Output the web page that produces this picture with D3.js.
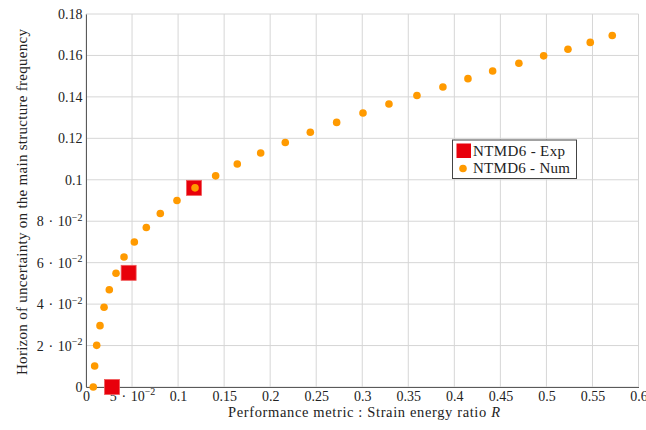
<!DOCTYPE html>
<html>
<head>
<meta charset="utf-8">
<script src="https://cdn.jsdelivr.net/npm/d3@7"></script>
</head>
<body style="margin:0;background:#fff">
<svg id="chart" width="646" height="430" style="font-family:'Liberation Serif', serif"></svg>
<script>
// Experimental results (NTMD6 - Exp)
const expR = [0.0283, 0.0463, 0.1173];
const expH = [0.0, 0.0551, 0.0961];

// Numerical results (NTMD6 - Num)
const numR = [0.0079, 0.0094, 0.0116, 0.0152, 0.0196, 0.0253, 0.0326, 0.0413, 0.0525, 0.0655,
              0.0807, 0.0988, 0.1184, 0.1408, 0.1643, 0.1897, 0.2164, 0.2436, 0.2722, 0.3008,
              0.3290, 0.3594, 0.3876, 0.4148, 0.4416, 0.4701, 0.4970, 0.5234, 0.5476, 0.5715];
const numH = [0.0, 0.0101, 0.0201, 0.0296, 0.0385, 0.0469, 0.0549, 0.0627, 0.0700, 0.0770,
              0.0837, 0.0900, 0.0961, 0.1019, 0.1076, 0.1129, 0.1180, 0.1229, 0.1277, 0.1322,
              0.1366, 0.1407, 0.1448, 0.1488, 0.1525, 0.1562, 0.1598, 0.1630, 0.1663, 0.1696];

// Tick values
const xTicks = [0, 0.05, 0.1, 0.15, 0.2, 0.25, 0.3, 0.35, 0.4, 0.45, 0.5, 0.55, 0.6];
const yTicks = [0, 0.02, 0.04, 0.06, 0.08, 0.1, 0.12, 0.14, 0.16, 0.18];

const legendLabels = ["NTMD6 - Exp", "NTMD6 - Num"];
const legendWidths = [92, 97];

const FONT = "'Liberation Serif', serif";
const svg = d3.select("#chart");
const margin = { left: 86, right: 7.5, top: 14, bottom: 43 };
const W = 646, H = 430;

const x = d3.scaleLinear().domain([0, 0.6]).range([margin.left, W - margin.right]);
const y = d3.scaleLinear().domain([0, 0.18]).range([H - margin.bottom, margin.top]);

// tick label: decimals, or "k·10^-2" for small values
function tickLabel(sel, v) {
  sel.text(null);
  if (v > 0 && v < 0.1 - 1e-9) {
    const k = Math.round(v * 100);
    sel.append("tspan").text(k + "\u2004\u00B7\u200410");
    sel.append("tspan").attr("dy", "-5.5").style("font-size", "10px").text("\u2212" + "2");
  } else {
    sel.text(String(+v.toFixed(2)));
  }
}

// grid
const grid = svg.append("g").attr("stroke", "#d6d6d6").attr("stroke-width", 1);
grid.selectAll("line.vx").data(xTicks).join("line")
  .attr("class", "vx")
  .attr("x1", d => x(d)).attr("x2", d => x(d))
  .attr("y1", y(0)).attr("y2", y(0.18));
grid.selectAll("line.hy").data(yTicks).join("line")
  .attr("class", "hy")
  .attr("x1", x(0)).attr("x2", x(0.6))
  .attr("y1", d => y(d)).attr("y2", d => y(d));

// axes (left and bottom)
const xAxis = d3.axisBottom(x).tickValues(xTicks).tickSize(0).tickPadding(4).tickFormat(() => "");
const gx = svg.append("g").attr("transform", `translate(0,${y(0)})`).call(xAxis);
gx.attr("font-family", null).style("font-family", FONT);
gx.select(".domain").attr("stroke", "#5a5a5a");
gx.selectAll(".tick text").style("font-size", "14px").attr("fill", "#222")
  .style("font-family", FONT)
  .each(function(d) { tickLabel(d3.select(this), d); });

const yAxis = d3.axisLeft(y).tickValues(yTicks).tickSize(0).tickPadding(3.5).tickFormat(() => "");
const gy = svg.append("g").attr("transform", `translate(${x(0)},0)`).call(yAxis);
gy.attr("font-family", null).style("font-family", FONT);
gy.select(".domain").attr("stroke", "#5a5a5a");
gy.selectAll(".tick text").style("font-size", "14px").attr("fill", "#222")
  .style("font-family", FONT)
  .each(function(d) { tickLabel(d3.select(this), d); });

// experimental squares
const sq = 15;
svg.append("g").selectAll("rect").data(expR.map((r, i) => [r, expH[i]])).join("rect")
  .attr("x", d => x(d[0]) - sq / 2).attr("y", d => y(d[1]) - sq / 2)
  .attr("width", sq).attr("height", sq)
  .attr("fill", "#e8000b").attr("stroke", "#f05a5a").attr("stroke-width", 0.8);

// numerical dots
svg.append("g").selectAll("circle").data(numR.map((r, i) => [r, numH[i]])).join("circle")
  .attr("cx", d => x(d[0])).attr("cy", d => y(d[1])).attr("r", 3.8)
  .attr("fill", "#ff9a00");

// axis titles
svg.append("text")
  .attr("x", 228).attr("y", 417)
  .attr("textLength", 272).attr("lengthAdjust", "spacing")
  .style("font-size", "14.5px").attr("fill", "#222")
  .style("font-family", FONT)
  .call(t => {
    t.append("tspan").text("Performance metric : Strain energy ratio ");
    t.append("tspan").style("font-style", "italic").text("R");
  });

svg.append("text")
  .attr("transform", `translate(26.5,375) rotate(-90)`)
  .attr("textLength", 346).attr("lengthAdjust", "spacing")
  .style("font-size", "15px").attr("fill", "#222")
  .style("font-family", FONT)
  .text("Horizon of uncertainty on the main structure frequency");

// legend
const lg = svg.append("g").attr("transform", "translate(452.5,140)");
lg.append("rect").attr("width", 124).attr("height", 38.5)
  .attr("fill", "#fff").attr("stroke", "#444").attr("stroke-width", 1);
lg.append("rect").attr("x", 4).attr("y", 3.5).attr("width", 14.5).attr("height", 14.5)
  .attr("fill", "#e8000b");
lg.append("circle").attr("cx", 10.5).attr("cy", 28.5).attr("r", 3.8).attr("fill", "#ff9a00");
lg.selectAll("text").data(legendLabels).join("text")
  .attr("x", 20.5).attr("y", (d, i) => 16 + i * 16.5)
  .attr("textLength", (d, i) => legendWidths[i]).attr("lengthAdjust", "spacing")
  .style("font-size", "15px").attr("fill", "#222")
  .style("font-family", FONT)
  .text(d => d);
</script>
</body>
</html>
